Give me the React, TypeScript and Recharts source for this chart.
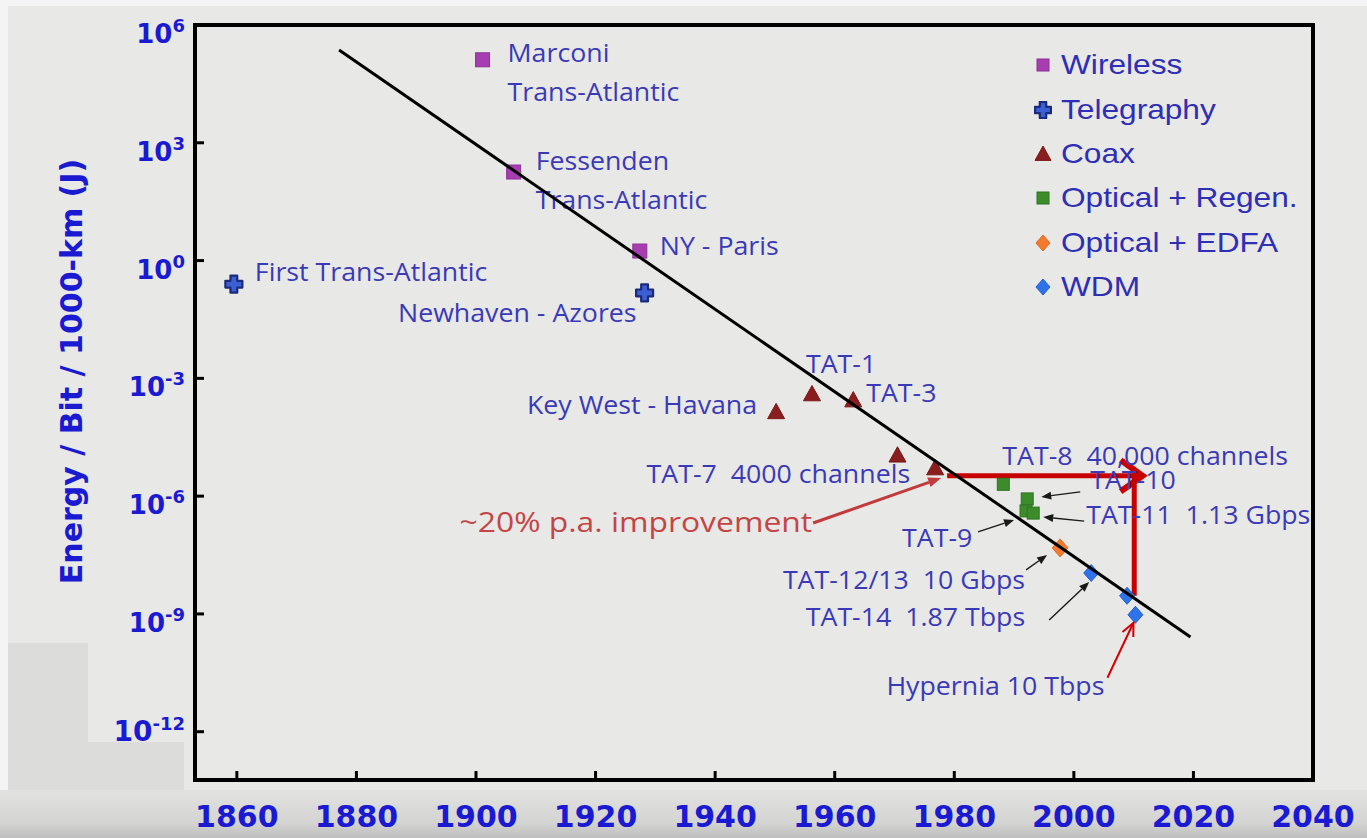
import React from 'react';
import {
  ScatterChart,
  Scatter,
  XAxis,
  YAxis,
  ReferenceArea,
  ReferenceLine,
  Legend,
  Label,
} from 'recharts';

// ---------- data: energy per bit per 1000 km (J) by year ----------
const wireless = [
  { name: 'Marconi', year: 1901.1, energy: 1.3e5 },
  { name: 'Fessenden', year: 1906.3, energy: 180 },
  { name: 'NY - Paris', year: 1927.4, energy: 1.75 },
];
const telegraphy = [
  { name: 'First Trans-Atlantic', year: 1859.5, energy: 0.25 },
  { name: 'Newhaven - Azores', year: 1928.2, energy: 0.15 },
];
const coax = [
  { name: 'Key West - Havana', year: 1950.2, energy: 1.4e-4 },
  { name: 'TAT-1', year: 1956.2, energy: 4.0e-4 },
  { name: 'TAT-3', year: 1963.1, energy: 2.8e-4 },
  { name: 'TAT-5', year: 1970.5, energy: 1.1e-5 },
  { name: 'TAT-7', year: 1976.8, energy: 5.2e-6 },
];
const opticalRegen = [
  { name: 'TAT-8', year: 1988.2, energy: 2.0e-6 },
  { name: 'TAT-10', year: 1992.2, energy: 8.5e-7 },
  { name: 'TAT-9', year: 1992.0, energy: 4.2e-7 },
  { name: 'TAT-11', year: 1993.2, energy: 3.7e-7 },
];
const opticalEdfa = [{ name: 'TAT-12/13', year: 1997.7, energy: 4.8e-8 }];
const wdm = [
  { name: 'TAT-14', year: 2002.9, energy: 1.1e-8 },
  { name: 'WDM 2009', year: 2008.9, energy: 2.9e-9 },
  { name: 'Hypernia', year: 2010.3, energy: 9.5e-10 },
];

// fitted trend (~20% improvement per year)
const trend = [
  { year: 1877.1, energy: 2.3e5 },
  { year: 2019.5, energy: 2.6e-10 },
];

// highlighted step: TAT-7 level carried forward, then the drop to 2009
const stepLevel = 3.3e-6;
const stepAcross = [
  { x: 1978.8, y: stepLevel },
  { x: 2011.5, y: stepLevel },
];
const stepDown = [
  { x: 2010.1, y: stepLevel },
  { x: 2010.1, y: 2.9e-9 },
];

const xTicks = [1860, 1880, 1900, 1920, 1940, 1960, 1980, 2000, 2020, 2040];
const yTicks = [1e-12, 1e-9, 1e-6, 1e-3, 1, 1e3, 1e6];

const pointLabels: Record<string, string[]> = {
  Marconi: ['Marconi', 'Trans-Atlantic'],
  Fessenden: ['Fessenden', 'Trans-Atlantic'],
  'NY - Paris': ['NY - Paris'],
  'First Trans-Atlantic': ['First Trans-Atlantic'],
  'Newhaven - Azores': ['Newhaven - Azores'],
  'Key West - Havana': ['Key West - Havana'],
  'TAT-1': ['TAT-1'],
  'TAT-3': ['TAT-3'],
  'TAT-7': ['TAT-7  4000 channels'],
  'TAT-8': ['TAT-8  40,000 channels'],
  'TAT-10': ['TAT-10'],
  'TAT-9': ['TAT-9'],
  'TAT-11': ['TAT-11  1.13 Gbps'],
  'TAT-12/13': ['TAT-12/13  10 Gbps'],
  'TAT-14': ['TAT-14  1.87 Tbps'],
  Hypernia: ['Hypernia 10 Tbps'],
};
const trendNote = { point: 'TAT-7', text: '~20% p.a. improvement' };

// ---------- layout & style ----------
const W = 1367;
const H = 838;
const LABEL_FONT = '"Open Sans", "Noto Sans", sans-serif';
const AXIS_FONT = '"DejaVu Sans", Verdana, sans-serif';
const LEGEND_FONT = '"Liberation Sans", Arial, sans-serif';
const LABEL_BLUE = '#3a3ab8';
const AXIS_BLUE = '#1a1ad2';

type Kind = 'square' | 'cross' | 'triangle' | 'diamond';
type Style = { kind: Kind; fill: string; stroke: string; size: number };

const styles: Record<string, Style> = {
  Wireless: { kind: 'square', fill: '#a63db0', stroke: '#8c3196', size: 14 },
  Telegraphy: { kind: 'cross', fill: '#3c5fd2', stroke: '#1b2a7c', size: 17 },
  Coax: { kind: 'triangle', fill: '#8a1e1e', stroke: '#7a1818', size: 17 },
  'Optical + Regen.': { kind: 'square', fill: '#3d8c2c', stroke: '#2f7322', size: 12 },
  'Optical + EDFA': { kind: 'diamond', fill: '#f27a2e', stroke: '#e06a20', size: 18 },
  WDM: { kind: 'diamond', fill: '#2f72ea', stroke: '#2160d0', size: 17 },
};

const seriesList = [
  { name: 'Wireless', data: wireless },
  { name: 'Telegraphy', data: telegraphy },
  { name: 'Coax', data: coax },
  { name: 'Optical + Regen.', data: opticalRegen },
  { name: 'Optical + EDFA', data: opticalEdfa },
  { name: 'WDM', data: wdm },
];

type Arrow = { from: [number, number]; to: [number, number]; tone: 'black' | 'red' };
type LabelPlace = { dx: number; dy: number; anchor?: 'start' | 'end'; arrow?: Arrow };

// label offsets from their point, in pixels
const labelPlaces: Record<string, LabelPlace> = {
  Marconi: { dx: 25, dy: 2 },
  Fessenden: { dx: 22, dy: -2 },
  'NY - Paris': { dx: 20, dy: 4 },
  'First Trans-Atlantic': { dx: 21, dy: -3 },
  'Newhaven - Azores': { dx: -8, dy: 29, anchor: 'end' },
  'Key West - Havana': { dx: -19, dy: 2, anchor: 'end' },
  'TAT-1': { dx: -6, dy: -21 },
  'TAT-3': { dx: 13, dy: 2 },
  'TAT-7': { dx: -25, dy: 15, anchor: 'end' },
  'TAT-8': { dx: -1, dy: -19 },
  'TAT-10': { dx: 63, dy: -10, arrow: { from: [53, -7], to: [14, -2], tone: 'black' } },
  'TAT-11': { dx: 53, dy: 11, arrow: { from: [51, 8], to: [10, 4], tone: 'black' } },
  'TAT-9': { dx: -124, dy: 36, arrow: { from: [-48, 21], to: [-12, 9], tone: 'black' } },
  'TAT-12/13': { dx: -35, dy: 41, anchor: 'end', arrow: { from: [-34, 22], to: [-13, 7], tone: 'black' } },
  'TAT-14': { dx: -66, dy: 53, anchor: 'end', arrow: { from: [-42, 47], to: [-2, 9], tone: 'black' } },
  Hypernia: { dx: -31, dy: 80, anchor: 'end', arrow: { from: [-28, 63], to: [-2, 8], tone: 'red' } },
};
const notePlace: LabelPlace = { dx: -123, dy: 64, anchor: 'end' };
const noteArrow = { from: [-122, 55] as [number, number], to: [6, 10] as [number, number] };

function Marker({ kind, cx, cy, fill, stroke, size }: Style & { cx: number; cy: number }) {
  const h = size / 2;
  if (kind === 'square') {
    return <rect x={cx - h} y={cy - h} width={size} height={size} fill={fill} stroke={stroke} strokeWidth={1} />;
  }
  if (kind === 'triangle') {
    return (
      <polygon
        points={`${cx},${cy - h} ${cx + h},${cy + h * 0.8} ${cx - h},${cy + h * 0.8}`}
        fill={fill}
        stroke={stroke}
        strokeWidth={1}
      />
    );
  }
  if (kind === 'diamond') {
    return (
      <polygon
        points={`${cx},${cy - h} ${cx + h * 0.88},${cy} ${cx},${cy + h} ${cx - h * 0.88},${cy}`}
        fill={fill}
        stroke={stroke}
        strokeWidth={1}
      />
    );
  }
  const a = size * 0.2;
  const d = `M${cx - a},${cy - h} H${cx + a} V${cy - a} H${cx + h} V${cy + a} H${cx + a} V${cy + h} H${cx - a} V${cy + a} H${cx - h} V${cy - a} H${cx - a} Z`;
  return <path d={d} fill={fill} stroke={stroke} strokeWidth={2.2} strokeLinejoin="round" />;
}

function ArrowMark({
  x1, y1, x2, y2, color, width, len, half, open,
}: {
  x1: number; y1: number; x2: number; y2: number; color: string; width: number; len: number; half: number; open?: boolean;
}) {
  const ang = Math.atan2(y2 - y1, x2 - x1);
  const bx = x2 - len * Math.cos(ang);
  const by = y2 - len * Math.sin(ang);
  const px = -Math.sin(ang) * half;
  const py = Math.cos(ang) * half;
  const lx = open ? x2 : bx;
  const ly = open ? y2 : by;
  return (
    <g>
      <line x1={x1} y1={y1} x2={lx} y2={ly} stroke={color} strokeWidth={width} />
      {open ? (
        <polyline
          points={`${bx + px},${by + py} ${x2},${y2} ${bx - px},${by - py}`}
          fill="none"
          stroke={color}
          strokeWidth={width}
        />
      ) : (
        <polygon points={`${x2},${y2} ${bx + px},${by + py} ${bx - px},${by - py}`} fill={color} />
      )}
    </g>
  );
}

function PointText({
  cx, cy, lines, place, color, size = 25, stretch = 1.07,
}: {
  cx: number; cy: number; lines: string[]; place: LabelPlace; color: string; size?: number; stretch?: number;
}) {
  const x = cx + place.dx;
  const y = cy + place.dy;
  return (
    <text
      transform={`translate(${x},${y}) scale(${stretch},1)`}
      x={0}
      y={0}
      textAnchor={place.anchor ?? 'start'}
      fill={color}
      fontFamily={LABEL_FONT}
      fontSize={size}
      style={{ whiteSpace: 'pre' }}
    >
      {lines.map((l, i) => (
        <tspan key={i} x={0} dy={i === 0 ? 0 : 39}>
          {l}
        </tspan>
      ))}
    </text>
  );
}

const makeShape = (style: Style) => (props: any) => {
  const { cx, cy, payload } = props;
  if (cx == null || cy == null) return <g />;
  const name = payload?.name as string;
  const lines = pointLabels[name];
  const place = labelPlaces[name];
  const arrow = place?.arrow;
  return (
    <g>
      <Marker {...style} cx={cx} cy={cy} />
      {arrow && (
        <ArrowMark
          x1={cx + arrow.from[0]}
          y1={cy + arrow.from[1]}
          x2={cx + arrow.to[0]}
          y2={cy + arrow.to[1]}
          color={arrow.tone === 'red' ? '#d40000' : '#1a1a1a'}
          width={arrow.tone === 'red' ? 2 : 1.4}
          len={arrow.tone === 'red' ? 13 : 10}
          half={arrow.tone === 'red' ? 6 : 4}
          open={arrow.tone === 'red'}
        />
      )}
      {lines && place && <PointText cx={cx} cy={cy} lines={lines} place={place} color={LABEL_BLUE} />}
      {name === trendNote.point && (
        <g>
          <ArrowMark
            x1={cx + noteArrow.from[0]}
            y1={cy + noteArrow.from[1]}
            x2={cx + noteArrow.to[0]}
            y2={cy + noteArrow.to[1]}
            color="#c23a3a"
            width={3}
            len={13}
            half={5}
          />
          <PointText
            cx={cx}
            cy={cy}
            lines={[trendNote.text]}
            place={notePlace}
            color="#c44545"
            size={27}
            stretch={1.18}
          />
        </g>
      )}
    </g>
  );
};

const noShape = () => <g />;

const lowestTick = Math.min(...yTicks);

const YTick = (props: any) => {
  const { x, y, payload } = props;
  const exp = Math.round(Math.log10(payload.value));
  const last = payload.value === lowestTick;
  return (
    <text
      x={x}
      y={y + (last ? 9 : 18)}
      textAnchor="end"
      fill={AXIS_BLUE}
      fontFamily={AXIS_FONT}
      fontWeight="bold"
      fontSize={last ? 28 : 26}
    >
      10
      <tspan dy={-11} fontSize={18}>
        {String(exp)}
      </tspan>
    </text>
  );
};

const XTick = (props: any) => {
  const { x, y, payload } = props;
  return (
    <text x={x} y={y} textAnchor="middle" fill={AXIS_BLUE} fontFamily={AXIS_FONT} fontWeight="bold" fontSize={30}>
      {payload.value}
    </text>
  );
};

const AxisTitle = (props: any) => {
  const vb = props.viewBox || { x: 135, y: 25, width: 60, height: 755 };
  const tx = vb.x + vb.width - 113;
  const ty = vb.y + vb.height / 2 - 31;
  return (
    <text
      transform={`translate(${tx},${ty}) rotate(-90)`}
      textAnchor="middle"
      fill={AXIS_BLUE}
      fontFamily={AXIS_FONT}
      fontWeight="bold"
      fontSize={30}
    >
      Energy / Bit / 1000-km (J)
    </text>
  );
};

const StepAcross = (p: any) => {
  const { x1, y1, x2, y2 } = p;
  const ang = Math.atan2(y2 - y1, x2 - x1);
  const L = 27;
  const s = 0.62;
  return (
    <g>
      <line x1={x1} y1={y1} x2={x2 - 3} y2={y2} stroke="#c80000" strokeWidth={5} />
      <polyline
        points={`${x2 - L * Math.cos(ang - s)},${y2 - L * Math.sin(ang - s)} ${x2},${y2} ${x2 - L * Math.cos(ang + s)},${y2 - L * Math.sin(ang + s)}`}
        fill="none"
        stroke="#c80000"
        strokeWidth={6}
      />
    </g>
  );
};

const StepDown = (p: any) => {
  const { x1, y1, x2, y2 } = p;
  return <line x1={x1} y1={y1 - 6} x2={x2} y2={y2} stroke="#c80000" strokeWidth={5} />;
};

const renderLegend = () => (
  <div style={{ display: 'flex', flexDirection: 'column' }}>
    {seriesList.map((s) => {
      const st = styles[s.name];
      const size = st.kind === 'square' ? 12 : st.kind === 'cross' ? 16 : 16;
      return (
        <div key={s.name} style={{ height: 44.4, display: 'flex', alignItems: 'center' }}>
          <svg width={18} height={18} style={{ flex: 'none' }}>
            <Marker {...st} size={size} cx={9} cy={9} />
          </svg>
          <span
            style={{
              marginLeft: 9,
              fontFamily: LEGEND_FONT,
              fontSize: 28,
              color: '#2e2eb6',
              whiteSpace: 'nowrap',
              display: 'inline-block',
              transform: 'scaleX(1.13)',
              transformOrigin: 'left center',
            }}
          >
            {s.name}
          </span>
        </div>
      );
    })}
  </div>
);

export default function App() {
  return (
    <div
      style={{
        position: 'fixed',
        left: 0,
        top: 0,
        width: W,
        height: H,
        background: '#e8e8e6',
        overflow: 'hidden',
      }}
    >
      <div style={{ position: 'absolute', left: 0, top: 0, width: W, height: 6, background: '#f4f4f4' }} />
      <div style={{ position: 'absolute', left: 0, top: 0, width: 8, height: 792, background: '#f4f4f4' }} />
      <div
        style={{
          position: 'absolute',
          left: 0,
          top: 790,
          width: W,
          height: 48,
          background: 'linear-gradient(#e2e2e0, #d3d3d1 70%, #bebebe)',
        }}
      />
      <div style={{ position: 'absolute', left: 0, top: 0 }}>
        <ScatterChart width={W} height={H} margin={{ top: 25, right: 54, bottom: 28, left: 135 }}>
          <XAxis
            type="number"
            dataKey="year"
            domain={[1853, 2040]}
            ticks={xTicks}
            allowDataOverflow
            height={30}
            axisLine={false}
            tickSize={-9}
            tickMargin={56}
            tickLine={{ stroke: '#000', strokeWidth: 3 }}
            tick={<XTick />}
            interval={0}
          />
          <YAxis
            type="number"
            dataKey="energy"
            scale="log"
            domain={[Math.pow(10, -13.23), 1e6]}
            ticks={yTicks}
            allowDataOverflow
            width={60}
            axisLine={false}
            tickSize={-9}
            tickMargin={19}
            tickLine={{ stroke: '#000', strokeWidth: 3 }}
            tick={<YTick />}
            interval={0}
            label={<Label content={AxisTitle} />}
          />
          <ReferenceArea
            x1={1853}
            x2={2040}
            y1={Math.pow(10, -13.23)}
            y2={1e6}
            fill="none"
            fillOpacity={0}
            stroke="#000"
            strokeWidth={4}
          />
          {seriesList.map((s) => (
            <Scatter
              key={s.name}
              name={s.name}
              data={s.data}
              dataKey="energy"
              fill={styles[s.name].fill}
              shape={makeShape(styles[s.name])}
              isAnimationActive={false}
            />
          ))}
          <Scatter
            name="trend"
            data={trend}
            dataKey="energy"
            line={{ stroke: '#000', strokeWidth: 3 }}
            lineType="joint"
            shape={noShape}
            legendType="none"
            isAnimationActive={false}
          />
          <ReferenceLine segment={stepDown} shape={StepDown} ifOverflow="visible" />
          <ReferenceLine segment={stepAcross} shape={StepAcross} ifOverflow="visible" />
          <Legend
            layout="vertical"
            align="center"
            verticalAlign="middle"
            wrapperStyle={{ top: 43, left: 1034, width: 300 }}
            content={renderLegend}
          />
        </ScatterChart>
      </div>
      <div style={{ position: 'absolute', left: 8, top: 643, width: 80, height: 100, background: '#dcdcdb' }} />
      <div style={{ position: 'absolute', left: 8, top: 742, width: 176, height: 48, background: '#dcdcdb' }} />
    </div>
  );
}
